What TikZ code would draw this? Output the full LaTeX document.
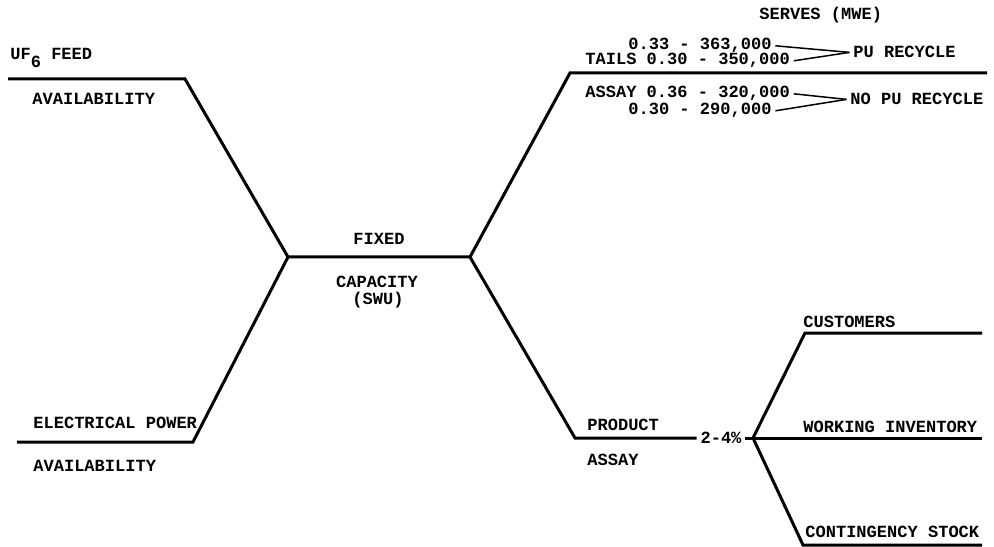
\documentclass[tikz,border=0pt]{standalone}
\usepackage{fontspec}
\setmonofont{Liberation Mono}
\usetikzlibrary{positioning}
\tikzset{>=latex}
\tikzstyle{flowline}=[draw=black,line width=0.6mm]
\tikzstyle{thinline}=[draw=black,line width=0.3mm]
\tikzstyle{txt}=[font=\fontsize{9.7}{11}\ttfamily\bfseries,inner sep=0pt,anchor=base west]

\begin{document}
\begin{tikzpicture}[x=0.02cm,y=-0.02cm]
  \useasboundingbox (0,0) rectangle (994,547);
  % junctions of the chart
  \coordinate (ufl) at (8,79);
  \coordinate (ufc) at (185,79);
  \coordinate (epl) at (17,442);
  \coordinate (epc) at (193,442);
  \coordinate (ctrl) at (288,257);
  \coordinate (ctrr) at (470,257);
  \coordinate (tl) at (570,73);
  \coordinate (tr) at (987,73);
  \coordinate (pl) at (575,438);
  \coordinate (jn) at (753,438);
  \coordinate (wir) at (982,438);
  \coordinate (cul) at (805,333);
  \coordinate (cur) at (982,333);
  \coordinate (csl) at (803,545);
  \coordinate (csr) at (982,545);

  % left side
  \node[txt] (feed) at (10,60) {UF\raisebox{-0.8ex}{6} FEED};
  \node[txt] (avail1) at (32,105) {AVAILABILITY};
  \node[txt] (power) at (33,428) {ELECTRICAL POWER};
  \node[txt] (avail2) at (33,471) {AVAILABILITY};

  % centre
  \node[txt,anchor=base] (fixed) at (379,245) {FIXED};
  \node[txt,anchor=base] (cap) at (377,288) {CAPACITY};
  \node[txt,anchor=base] (swu) at (378,304) {(SWU)};

  % tails assay
  \node[txt] (serves) at (759,20) {SERVES (MWE)};
  \node[txt] (r1) at (628,50) {0.33 - 363,000};
  \node[txt] (r2) at (585,65) {TAILS 0.30 - 350,000};
  \node[txt] (r3) at (585,98) {ASSAY 0.36 - 320,000};
  \node[txt] (r4) at (628,115) {0.30 - 290,000};
  \node[txt] (pu) at (853,58) {PU RECYCLE};
  \node[txt] (nopu) at (850,105) {NO PU RECYCLE};

  % product assay
  \node[txt] (prod) at (587,430) {PRODUCT};
  \node[txt] (assay) at (587,465) {ASSAY};
  \node[txt,anchor=base] (pct) at (721,443) {2-4\%};
  \node[txt] (cust) at (803,327) {CUSTOMERS};
  \node[txt] (work) at (803,432) {WORKING INVENTORY};
  \node[txt] (cont) at (805,537) {CONTINGENCY STOCK};

  \draw[flowline] (ufl) -- (ufc) -- (ctrl) -- (ctrr) -- (tl) -- (tr);
  \draw[flowline] (epl) -- (epc) -- (ctrl);
  \draw[flowline] (ctrr) -- (pl) -- ([xshift=-2pt]pct.west |- pl);
  \draw[flowline] ([xshift=2pt]pct.east |- jn) -- (jn) -- (wir);
  \draw[flowline] (jn) -- (cul) -- (cur);
  \draw[flowline] (jn) -- (csl) -- (csr);

  \draw[thinline] ([xshift=2pt]r1.east) -- ([xshift=-2pt]pu.west);
  \draw[thinline] ([xshift=2pt]r2.east) -- ([xshift=-2pt]pu.west);
  \draw[thinline] ([xshift=2pt]r3.east) -- ([xshift=-2pt]nopu.west);
  \draw[thinline] ([xshift=2pt]r4.east) -- ([xshift=-2pt]nopu.west);
\end{tikzpicture}
\end{document}
